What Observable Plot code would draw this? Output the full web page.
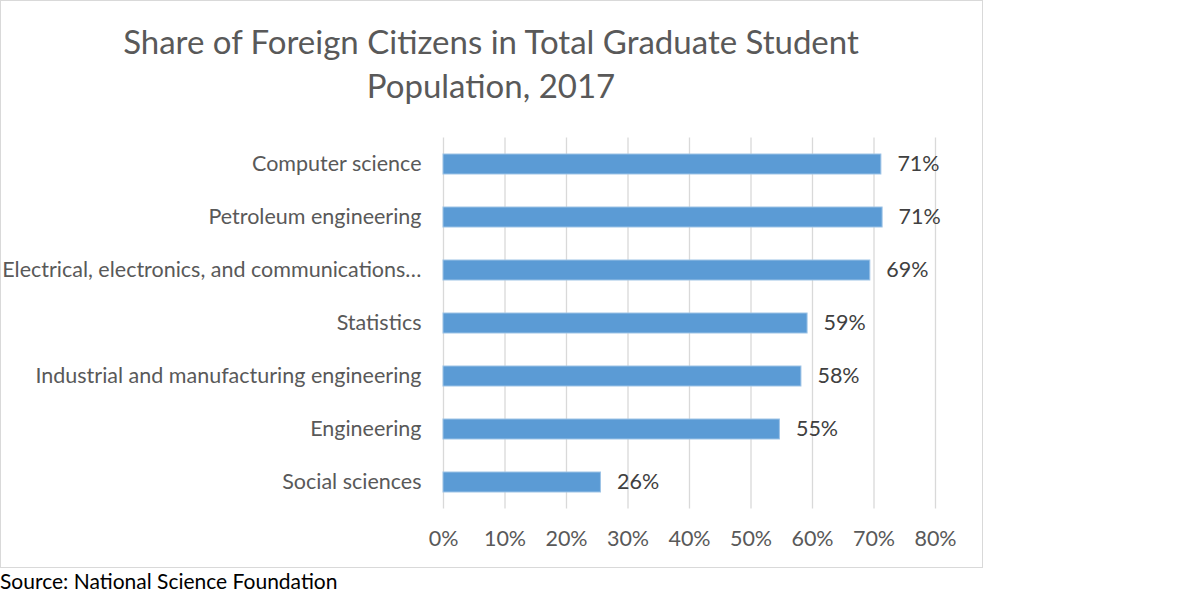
<!DOCTYPE html>
<html><head><meta charset="utf-8">
<script src="https://cdn.jsdelivr.net/npm/d3@7"></script>
<script src="https://cdn.jsdelivr.net/npm/@observablehq/plot@0.6"></script>
<style>
body{margin:0;background:#fff;font-family:Lato,"Open Sans",sans-serif;}
#frame{position:absolute;left:0;top:0;width:981px;height:566px;border:1px solid #d9d9d9;box-sizing:content-box;}
#title{position:absolute;left:0;top:19px;width:982px;text-align:center;font-size:33px;line-height:44px;color:#595959;}
#chart{position:absolute;left:0;top:0;}
#source{position:absolute;left:0px;top:568px;font-size:21px;color:#000;}
</style></head>
<body>
<div id="frame"></div>
<div id="chart"></div>
<div id="title">Share of Foreign Citizens in Total Graduate Student<br>Population, 2017</div>
<div id="source">Source: National Science Foundation</div>
<script>
const categories = ["Computer science","Petroleum engineering","Electrical, electronics, and communications…","Statistics","Industrial and manufacturing engineering","Engineering","Social sciences"];
const values = [71.2, 71.4, 69.4, 59.2, 58.2, 54.7, 25.6];
const valueLabels = ["71%","71%","69%","59%","58%","55%","26%"];
const tickValues = [0,10,20,30,40,50,60,70,80];
const tickLabels = ["0%","10%","20%","30%","40%","50%","60%","70%","80%"];

const data = categories.map((c,i)=>({category:c, value:values[i], label:valueLabels[i]}));

const chart = Plot.plot({
  width: 982,
  height: 567,
  marginTop: 137.5,
  marginBottom: 58.5,
  marginLeft: 443,
  marginRight: 47,
  style:{fontFamily:"Lato, 'Open Sans', sans-serif", fontSize:"21.5px", color:"#595959", background:"transparent"},
  x:{domain:[0,80], ticks:tickValues, tickFormat:(d)=>tickLabels[tickValues.indexOf(d)], tickSize:0, tickPadding:22, label:null},
  y:{domain:categories, paddingInner:0.62, paddingOuter:0.31, align:0.5, tickSize:0, tickPadding:22, label:null},
  marks:[
    Plot.ruleX(tickValues,{stroke:"#d9d9d9", strokeWidth:1.3}),
    Plot.barX(data,{x:"value", y:"category", fill:"#5b9bd5", stroke:"#9dc3e6", strokeWidth:1}),
    Plot.text(data,{x:"value", y:"category", text:"label", textAnchor:"start", dx:16, fill:"#404040", fontSize:21.5})
  ]
});
document.getElementById("chart").appendChild(chart);
</script>
</body></html>
